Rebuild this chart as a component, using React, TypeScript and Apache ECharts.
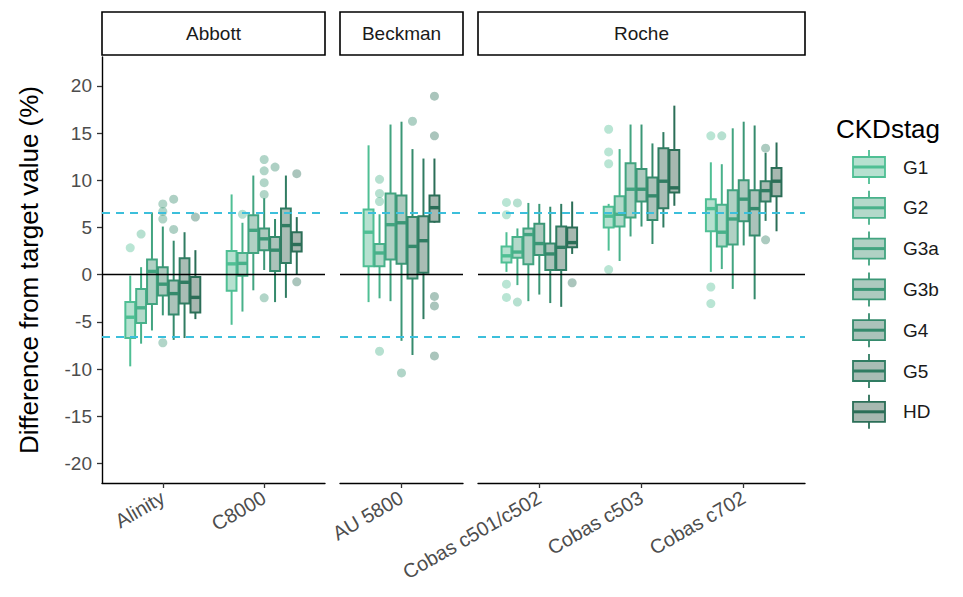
import React, { useEffect, useRef } from "react";
import * as echarts from "echarts";

// ---------- data ----------
const groups = ["G1", "G2", "G3a", "G3b", "G4", "G5", "HD"];
const makers = ["Abbott", "Beckman", "Roche"];
const abbottAnalyzers = ["Alinity", "C8000"];
const beckmanAnalyzers = ["AU 5800"];
const rocheAnalyzers = ["Cobas c501/c502", "Cobas c503", "Cobas c702"];
const yTicks = [-20, -15, -10, -5, 0, 5, 10, 15, 20];
const limitLines = [6.6, -6.6];

// box stats per group: [lower whisker, Q1, median, Q3, upper whisker]
const alinity = [
  [-9.7, -6.7, -4.5, -2.9, -0.1],
  [-7.3, -5.1, -3.5, -1.5, 0.8],
  [-5.9, -3.1, 0.35, 1.6, 6.6],
  [-4.3, -2.2, -1.0, 0.8, 5.1],
  [-6.9, -4.2, -2.0, -0.6, 3.6],
  [-6.7, -3.05, -0.8, 1.75, 4.5],
  [-4.7, -4.0, -2.4, -0.25, 2.6],
];
const alinityOut = [[0, 2.85], [1, 4.3], [3, 7.5], [3, 6.7], [3, 5.9], [3, -7.2], [4, 8.0], [4, 4.8], [6, 6.1]];

const c8000 = [
  [-5.3, -1.7, 1.15, 2.5, 8.5],
  [-3.9, -0.1, 1.2, 2.3, 5.5],
  [-1.65, 2.3, 4.7, 6.3, 10.5],
  [0.5, 2.6, 3.8, 4.9, 8.1],
  [-2.9, 0.4, 2.6, 4.0, 5.9],
  [-2.45, 1.25, 5.2, 7.0, 10.5],
  [0.0, 2.45, 3.2, 4.5, 6.1],
];
const c8000Out = [[1, 6.4], [3, 12.2], [3, 11.0], [3, 9.75], [3, 8.5], [3, -2.45], [4, 11.4], [6, 10.7], [6, -0.75]];

const au5800 = [
  [-2.9, 0.9, 4.5, 6.9, 13.7],
  [-2.5, 0.9, 2.3, 3.25, 6.4],
  [-2.8, 1.6, 5.3, 8.6, 15.9],
  [-7.0, 1.15, 5.5, 8.4, 16.2],
  [-8.5, -0.4, 3.0, 6.1, 13.3],
  [-4.7, 0.2, 3.6, 6.2, 12.3],
  [5.5, 5.6, 7.1, 8.4, 12.3],
];
const au5800Out = [[1, 10.1], [1, 8.6], [1, 7.75], [1, -8.1], [3, -10.4], [4, 16.25], [6, 18.9], [6, 14.7], [6, -2.3], [6, -3.3], [6, -8.6]];

const c501 = [
  [0.3, 1.3, 2.0, 3.0, 4.5],
  [-1.1, 1.8, 2.4, 4.0, 4.9],
  [-2.8, 1.1, 4.25, 4.9, 7.6],
  [-2.1, 2.1, 3.3, 5.4, 7.5],
  [-3.0, 0.5, 2.2, 3.3, 7.2],
  [-3.4, 0.5, 2.9, 5.1, 7.5],
  [2.2, 2.9, 3.4, 5.0, 7.75],
];
const c501Out = [[0, 7.65], [0, 6.35], [0, -1.0], [0, -2.4], [1, 7.6], [1, -2.9], [6, -0.85]];

const c503 = [
  [2.55, 5.0, 6.2, 7.2, 7.5],
  [1.45, 5.1, 6.4, 8.3, 13.3],
  [4.05, 6.05, 9.05, 11.8, 15.9],
  [5.1, 7.75, 9.05, 11.2, 15.9],
  [3.25, 5.8, 8.35, 10.3, 13.9],
  [5.0, 7.05, 9.9, 13.4, 15.1],
  [7.3, 8.7, 9.2, 13.2, 17.9],
];
const c503Out = [[0, 15.4], [0, 13.0], [0, 11.75], [0, 0.55]];

const c702 = [
  [0.3, 4.6, 7.0, 8.0, 11.9],
  [0.6, 3.0, 4.5, 7.4, 11.7],
  [-1.5, 3.2, 5.9, 8.95, 15.5],
  [3.1, 5.65, 8.0, 10.0, 16.2],
  [-2.6, 4.15, 7.0, 8.95, 15.8],
  [5.7, 7.75, 8.9, 9.9, 12.9],
  [4.6, 8.3, 9.9, 11.3, 14.0],
];
const c702Out = [[0, 14.7], [0, -1.3], [0, -3.05], [1, 14.7], [5, 13.4], [5, 3.7]];

// ---------- styling ----------
const lineColors = ["#4fbf94", "#48b18a", "#42a480", "#3b9776", "#358a6c", "#307c62", "#2b6e57"];
const fillColors = ["#b6e1d0", "#b3d9ca", "#b0d1c4", "#adcabf", "#abc3ba", "#a9bdb5", "#a7b8b0"];
const FONT = "Liberation Sans, Arial, sans-serif";
const DODGE = 0.75 / 7;
const BOX_W = DODGE * 0.9;

const panels = [
  { maker: makers[0], cats: abbottAnalyzers, stats: [alinity, c8000], outs: [alinityOut, c8000Out], left: 102, width: 223 },
  { maker: makers[1], cats: beckmanAnalyzers, stats: [au5800], outs: [au5800Out], left: 340, width: 123 },
  { maker: makers[2], cats: rocheAnalyzers, stats: [c501, c503, c702], outs: [c501Out, c503Out, c702Out], left: 478, width: 327 },
];
const PANEL_TOP = 57;
const PANEL_H = 426;

export default function App() {
  const ref = useRef<HTMLDivElement>(null);
  useEffect(() => {
    if (!ref.current) return;
    const chart = echarts.init(ref.current, undefined, { renderer: "svg" });

    const grids: any[] = [];
    const xAxes: any[] = [];
    const yAxes: any[] = [];
    const series: any[] = [];
    const graphics: any[] = [];

    panels.forEach((p, i) => {
      grids.push({ left: p.left, top: PANEL_TOP, width: p.width, height: PANEL_H });
      const catVals = p.cats.map((_, k) => k + 1);
      xAxes.push({
        type: "value",
        gridIndex: i,
        min: 0.4,
        max: p.cats.length + 0.6,
        axisLine: { show: true, onZero: false, lineStyle: { color: "#000", width: 1.4 } },
        axisTick: { show: true, customValues: catVals, length: 5, lineStyle: { color: "#333", width: 1.3 } },
        axisLabel: {
          customValues: catVals,
          formatter: (v: number) => p.cats[Math.round(v) - 1] ?? "",
          rotate: 30,
          fontSize: 20,
          color: "#4d4d4d",
          fontFamily: FONT,
          margin: 13,
        },
        splitLine: { show: false },
      });
      const showY = i === 0;
      yAxes.push({
        type: "value",
        gridIndex: i,
        min: -22.05,
        max: 23.05,
        axisLine: { show: showY, onZero: false, lineStyle: { color: "#000", width: 1.4 } },
        axisTick: { show: showY, customValues: yTicks, length: 5, lineStyle: { color: "#333", width: 1.3 } },
        axisLabel: { show: showY, customValues: yTicks, fontSize: 19, color: "#4d4d4d", fontFamily: FONT, margin: 10 },
        splitLine: { show: false },
        name: showY ? "Difference from target value (%)" : "",
        nameLocation: "middle",
        nameGap: 60,
        nameTextStyle: { fontSize: 26, color: "#000", fontFamily: FONT },
      });

      const boxData: any[] = [];
      p.stats.forEach((st, k) => {
        st.forEach((s, g) => {
          boxData.push([k + 1 + (g - 3) * DODGE, s[0], s[1], s[2], s[3], s[4], g]);
        });
      });
      series.push({
        type: "custom",
        xAxisIndex: i,
        yAxisIndex: i,
        z: 2,
        data: boxData,
        encode: { x: 0, y: [1, 2, 3, 4, 5] },
        renderItem: (_params: any, api: any) => {
          const xv = api.value(0);
          const g = api.value(6);
          const cx = api.coord([xv, 0])[0];
          const yLo = api.coord([xv, api.value(1)])[1];
          const yQ1 = api.coord([xv, api.value(2)])[1];
          const yMed = api.coord([xv, api.value(3)])[1];
          const yQ3 = api.coord([xv, api.value(4)])[1];
          const yHi = api.coord([xv, api.value(5)])[1];
          const w = api.size([BOX_W, 0])[0];
          const stroke = lineColors[g];
          const fill = fillColors[g];
          return {
            type: "group",
            children: [
              { type: "line", shape: { x1: cx, y1: yHi, x2: cx, y2: yQ3 }, style: { stroke, lineWidth: 2 } },
              { type: "line", shape: { x1: cx, y1: yQ1, x2: cx, y2: yLo }, style: { stroke, lineWidth: 2 } },
              {
                type: "rect",
                shape: { x: cx - w / 2, y: yQ3, width: w, height: Math.max(yQ1 - yQ3, 0.5) },
                style: { fill, stroke, lineWidth: 2 },
              },
              { type: "line", shape: { x1: cx - w / 2, y1: yMed, x2: cx + w / 2, y2: yMed }, style: { stroke, lineWidth: 3.4 } },
            ],
          };
        },
      });

      const ptData: any[] = [];
      p.outs.forEach((os, k) => {
        os.forEach(([g, v]) => {
          ptData.push({
            value: [k + 1 + (g - 3) * DODGE, v],
            itemStyle: { color: lineColors[g], opacity: 0.4 },
          });
        });
      });
      series.push({
        type: "scatter",
        xAxisIndex: i,
        yAxisIndex: i,
        z: 3,
        symbolSize: 9,
        data: ptData,
        markLine: {
          silent: true,
          symbol: ["none", "none"],
          label: { show: false },
          data: [
            { yAxis: 0, lineStyle: { color: "#000", width: 1.4, type: "solid" } },
            ...limitLines.map((v) => ({ yAxis: v, lineStyle: { color: "#3cbfdb", width: 1.8, type: [8, 6] } })),
          ],
        },
      });

      // strip
      graphics.push({
        type: "rect",
        shape: { x: p.left, y: 12, width: p.width, height: 43 },
        style: { fill: "#fff", stroke: "#000", lineWidth: 1.6 },
      });
      graphics.push({
        type: "text",
        x: p.left + p.width / 2,
        y: 33.5,
        style: { text: p.maker, fontSize: 19, fill: "#1a1a1a", fontFamily: FONT, align: "center", verticalAlign: "middle" },
      });
    });

    // legend
    graphics.push({
      type: "text",
      x: 836,
      y: 129,
      style: { text: "CKDstag", fontSize: 26, fill: "#000", fontFamily: FONT, align: "left", verticalAlign: "middle" },
    });
    groups.forEach((g, i) => {
      const cy = 167 + i * 40.8;
      const cx = 869;
      graphics.push({ type: "line", shape: { x1: cx, y1: cy - 17, x2: cx, y2: cy - 10 }, style: { stroke: lineColors[i], lineWidth: 1.8 } });
      graphics.push({ type: "line", shape: { x1: cx, y1: cy + 10, x2: cx, y2: cy + 17 }, style: { stroke: lineColors[i], lineWidth: 1.8 } });
      graphics.push({
        type: "rect",
        shape: { x: 853, y: cy - 10, width: 32, height: 20 },
        style: { fill: fillColors[i], stroke: lineColors[i], lineWidth: 1.8 },
      });
      graphics.push({ type: "line", shape: { x1: 853, y1: cy, x2: 885, y2: cy }, style: { stroke: lineColors[i], lineWidth: 3 } });
      graphics.push({
        type: "text",
        x: 903,
        y: cy,
        style: { text: g, fontSize: 19, fill: "#1a1a1a", fontFamily: FONT, align: "left", verticalAlign: "middle" },
      });
    });

    chart.setOption({
      animation: false,
      backgroundColor: "#fff",
      textStyle: { fontFamily: FONT },
      grid: grids,
      xAxis: xAxes,
      yAxis: yAxes,
      series,
      graphic: graphics,
    });
    return () => chart.dispose();
  }, []);

  return <div ref={ref} style={{ position: "absolute", left: 0, top: 0, width: 963, height: 597 }} />;
}
